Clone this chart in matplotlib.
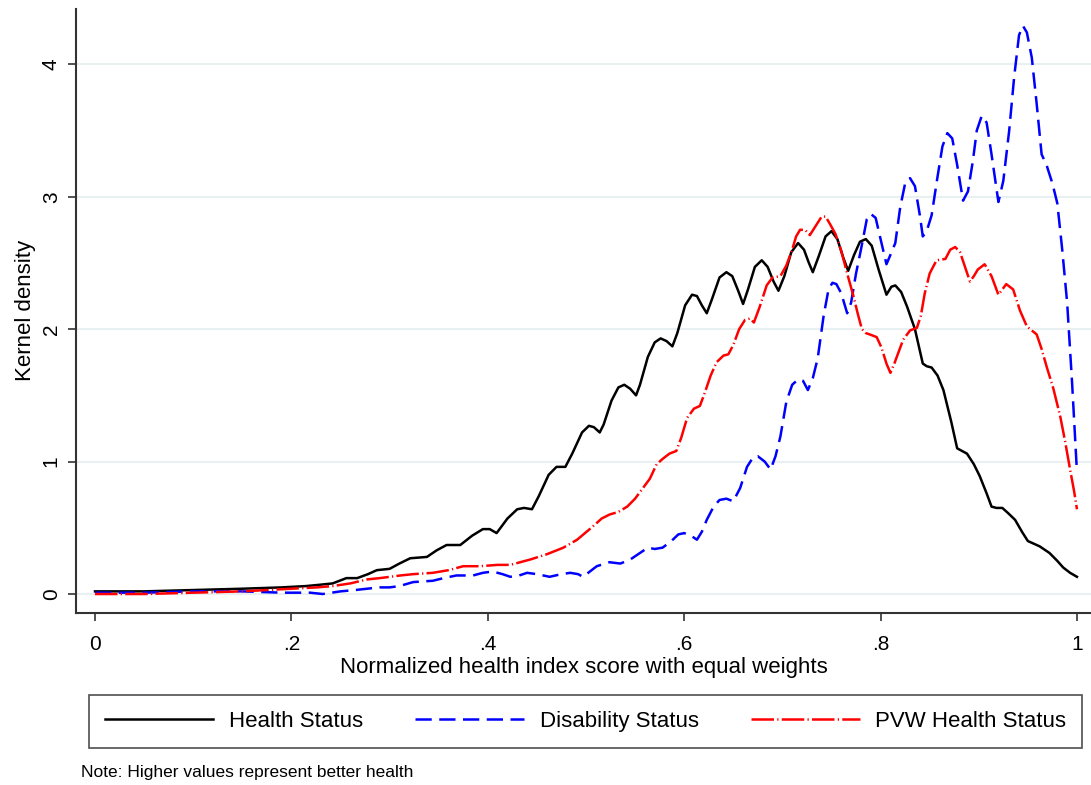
import matplotlib
matplotlib.use("Agg")
import matplotlib.pyplot as plt

plt.rcParams["font.family"] = ["Liberation Sans", "DejaVu Sans"]

# kernel density values
health_x = [0.000, 0.050, 0.100, 0.150, 0.190, 0.215, 0.229, 0.242, 0.256, 0.267,
            0.278, 0.287, 0.300, 0.310, 0.321, 0.338, 0.348, 0.358, 0.372, 0.384,
            0.395, 0.402, 0.409, 0.420, 0.430, 0.437, 0.445, 0.452, 0.462, 0.470,
            0.479, 0.486, 0.496, 0.503, 0.508, 0.514, 0.518, 0.526, 0.533, 0.539,
            0.545, 0.551, 0.555, 0.563, 0.570, 0.576, 0.582, 0.588, 0.593, 0.601,
            0.608, 0.613, 0.618, 0.623, 0.628, 0.636, 0.643, 0.649, 0.655, 0.660,
            0.665, 0.672, 0.679, 0.685, 0.691, 0.696, 0.702, 0.709, 0.716, 0.722,
            0.727, 0.731, 0.737, 0.744, 0.750, 0.756, 0.762, 0.767, 0.773, 0.779,
            0.785, 0.791, 0.798, 0.806, 0.811, 0.815, 0.821, 0.827, 0.835, 0.843,
            0.847, 0.852, 0.858, 0.864, 0.872, 0.878, 0.883, 0.888, 0.895, 0.901,
            0.908, 0.913, 0.918, 0.924, 0.930, 0.937, 0.944, 0.950, 0.956, 0.962,
            0.972, 0.980, 0.986, 0.993, 1.000]
health_y = [0.02, 0.02, 0.03, 0.04, 0.05, 0.06, 0.07, 0.08, 0.12, 0.12,
            0.15, 0.18, 0.19, 0.23, 0.27, 0.28, 0.33, 0.37, 0.37, 0.44,
            0.49, 0.49, 0.46, 0.57, 0.64, 0.65, 0.64, 0.74, 0.90, 0.96,
            0.96, 1.06, 1.22, 1.27, 1.26, 1.22, 1.28, 1.46, 1.56, 1.58,
            1.55, 1.50, 1.58, 1.79, 1.90, 1.93, 1.91, 1.87, 1.97, 2.18,
            2.26, 2.25, 2.18, 2.12, 2.22, 2.39, 2.43, 2.40, 2.29, 2.19,
            2.30, 2.47, 2.52, 2.47, 2.36, 2.29, 2.40, 2.58, 2.65, 2.60,
            2.50, 2.43, 2.55, 2.70, 2.74, 2.68, 2.54, 2.44, 2.56, 2.66,
            2.68, 2.63, 2.45, 2.26, 2.32, 2.33, 2.28, 2.17, 2.00, 1.74,
            1.72, 1.71, 1.65, 1.54, 1.30, 1.10, 1.08, 1.06, 0.98, 0.89,
            0.76, 0.66, 0.65, 0.65, 0.61, 0.56, 0.47, 0.40, 0.38, 0.36,
            0.31, 0.25, 0.20, 0.16, 0.13]

disab_x = [0.000, 0.050, 0.100, 0.150, 0.191, 0.205, 0.219, 0.232, 0.250, 0.265,
           0.277, 0.290, 0.300, 0.310, 0.324, 0.344, 0.355, 0.368, 0.385, 0.395,
           0.405, 0.415, 0.423, 0.432, 0.440, 0.450, 0.463, 0.475, 0.484, 0.492,
           0.497, 0.504, 0.511, 0.524, 0.535, 0.545, 0.557, 0.563, 0.570, 0.578,
           0.587, 0.594, 0.600, 0.607, 0.613, 0.618, 0.623, 0.630, 0.636, 0.643,
           0.650, 0.657, 0.664, 0.670, 0.675, 0.682, 0.688, 0.693, 0.698, 0.704,
           0.710, 0.716, 0.721, 0.726, 0.731, 0.736, 0.742, 0.747, 0.751, 0.755,
           0.760, 0.766, 0.770, 0.775, 0.780, 0.786, 0.790, 0.795, 0.800, 0.806,
           0.810, 0.815, 0.820, 0.825, 0.830, 0.835, 0.840, 0.843, 0.847, 0.852,
           0.858, 0.863, 0.868, 0.873, 0.878, 0.884, 0.889, 0.894, 0.898, 0.903,
           0.908, 0.913, 0.920, 0.925, 0.931, 0.936, 0.941, 0.945, 0.949, 0.954,
           0.959, 0.964, 0.969, 0.975, 0.980, 0.985, 0.990, 0.995, 1.000]
disab_y = [0.01, 0.01, 0.02, 0.02, 0.01, 0.01, 0.01, 0.00, 0.02, 0.03,
           0.04, 0.05, 0.05, 0.06, 0.09, 0.10, 0.12, 0.14, 0.14, 0.16,
           0.17, 0.15, 0.13, 0.14, 0.16, 0.15, 0.13, 0.15, 0.16, 0.15,
           0.13, 0.17, 0.21, 0.24, 0.23, 0.26, 0.32, 0.35, 0.34, 0.35,
           0.40, 0.45, 0.46, 0.44, 0.41, 0.47, 0.56, 0.66, 0.71, 0.72,
           0.70, 0.80, 0.96, 1.03, 1.04, 1.00, 0.94, 1.04, 1.19, 1.45,
           1.58, 1.62, 1.61, 1.54, 1.63, 1.78, 2.10, 2.30, 2.35, 2.34,
           2.27, 2.12, 2.20, 2.42, 2.60, 2.83, 2.87, 2.84, 2.68, 2.49,
           2.56, 2.65, 2.92, 3.10, 3.14, 3.08, 2.86, 2.70, 2.74, 2.86,
           3.15, 3.38, 3.48, 3.44, 3.24, 2.97, 3.04, 3.27, 3.50, 3.61,
           3.56, 3.32, 2.96, 3.12, 3.50, 3.90, 4.22, 4.29, 4.24, 4.05,
           3.70, 3.32, 3.24, 3.10, 2.95, 2.60, 2.20, 1.60, 0.92]

pvw_x = [0.000, 0.050, 0.100, 0.150, 0.175, 0.200, 0.226, 0.242, 0.260, 0.277,
         0.290, 0.311, 0.324, 0.344, 0.360, 0.375, 0.392, 0.410, 0.423, 0.443,
         0.460, 0.477, 0.491, 0.507, 0.516, 0.524, 0.533, 0.542, 0.550, 0.558,
         0.565, 0.572, 0.578, 0.585, 0.592, 0.597, 0.603, 0.610, 0.616, 0.621,
         0.627, 0.633, 0.640, 0.645, 0.650, 0.656, 0.662, 0.667, 0.671, 0.677,
         0.684, 0.690, 0.698, 0.704, 0.710, 0.714, 0.718, 0.723, 0.728, 0.734,
         0.740, 0.744, 0.748, 0.754, 0.760, 0.766, 0.772, 0.777, 0.781, 0.785,
         0.789, 0.796, 0.801, 0.806, 0.810, 0.814, 0.818, 0.823, 0.830, 0.837,
         0.841, 0.845, 0.850, 0.857, 0.866, 0.871, 0.876, 0.881, 0.886, 0.891,
         0.895, 0.899, 0.906, 0.913, 0.920, 0.924, 0.928, 0.935, 0.942, 0.949,
         0.959, 0.964, 0.969, 0.976, 0.983, 0.988, 0.993, 0.997, 1.000]
pvw_y = [0.00, 0.00, 0.01, 0.02, 0.03, 0.04, 0.05, 0.06, 0.08, 0.11,
         0.12, 0.14, 0.15, 0.16, 0.18, 0.21, 0.21, 0.22, 0.22, 0.26,
         0.30, 0.35, 0.41, 0.51, 0.57, 0.60, 0.62, 0.66, 0.72, 0.80,
         0.87, 0.98, 1.02, 1.06, 1.08, 1.18, 1.33, 1.40, 1.42, 1.52,
         1.65, 1.75, 1.80, 1.81, 1.88, 2.00, 2.07, 2.08, 2.05, 2.17,
         2.33, 2.39, 2.40, 2.48, 2.60, 2.70, 2.75, 2.75, 2.71, 2.78,
         2.85, 2.85, 2.80, 2.72, 2.59, 2.42, 2.26, 2.11, 2.00, 1.97,
         1.96, 1.94, 1.86, 1.74, 1.67, 1.74, 1.82, 1.92, 1.99, 2.01,
         2.10, 2.27, 2.42, 2.52, 2.53, 2.60, 2.62, 2.58, 2.47, 2.36,
         2.40, 2.45, 2.49, 2.40, 2.26, 2.30, 2.34, 2.30, 2.14, 2.02,
         1.96, 1.85, 1.72, 1.55, 1.34, 1.15, 0.94, 0.78, 0.64]

x_ticks = [0, 0.2, 0.4, 0.6, 0.8, 1.0]
x_ticklabels = ["0", ".2", ".4", ".6", ".8", "1"]
y_ticks = [0, 1, 2, 3, 4]

fig = plt.figure(figsize=(10.91, 7.85), dpi=100)
ax = fig.add_axes([0.0697, 0.219, 0.9303, 0.770])

lw = 1.8
ax.plot(health_x, health_y, color="black", lw=lw, label="Health Status")
ax.plot(disab_x, disab_y, color="#0000ff", lw=lw, dashes=(6.5, 3.0),
        label="Disability Status")
ax.plot(pvw_x, pvw_y, color="#ff0000", lw=lw, dashes=(9.0, 1.3, 0.5, 1.3),
        label="PVW Health Status")

ax.set_xlim(-0.0193, 1.0143)
ax.set_ylim(-0.144, 4.42)
ax.set_xticks(x_ticks)
ax.set_xticklabels(x_ticklabels)
ax.set_yticks(y_ticks)
ax.set_yticklabels([str(v) for v in y_ticks], rotation=90, va="center")
ax.tick_params(axis="both", labelsize=15, length=6, width=1.2, color="#333333")
ax.tick_params(axis="x", pad=10)
ax.tick_params(axis="y", pad=5)
ax.grid(axis="y", color="#e8f0f2", lw=1.5)
ax.set_axisbelow(True)
for side in ["top", "right"]:
    ax.spines[side].set_visible(False)
for side in ["left", "bottom"]:
    ax.spines[side].set_color("#333333")
    ax.spines[side].set_linewidth(1.5)

ax.set_xlabel("Normalized health index score with equal weights", fontsize=16, labelpad=2)
ax.set_ylabel("Kernel density", fontsize=16, labelpad=4)

leg = fig.legend(loc="center", ncol=3, fontsize=16,
                 bbox_to_anchor=(0.5367, 0.0809),
                 handlelength=4.9, handletextpad=0.7, columnspacing=2.35,
                 borderpad=0.7, fancybox=False, frameon=True, edgecolor="#222222")
leg.get_frame().set_linewidth(1.2)

fig.text(0.074, 0.01, "Note: Higher values represent better health", fontsize=12.5)

plt.savefig("out.png", dpi=100)
